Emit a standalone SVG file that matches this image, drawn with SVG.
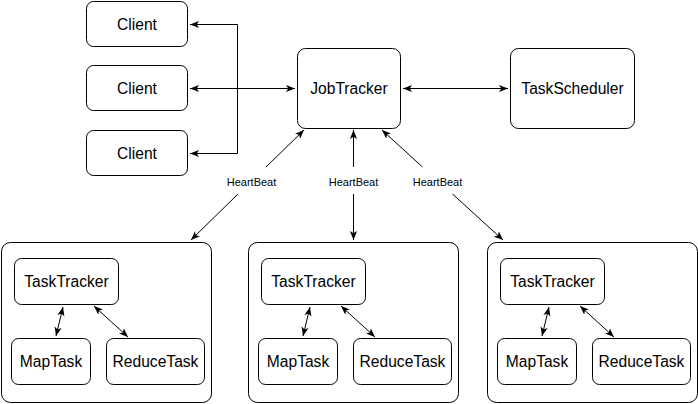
<svg xmlns="http://www.w3.org/2000/svg" width="698" height="404" viewBox="0 0 698 404">
  <style>
    .box { fill: #ffffff; stroke: #000000; stroke-width: 1; }
    .lbl { font-family: "Liberation Sans", Arial, sans-serif; font-size: 15.6px; fill: #000000; text-anchor: middle; dominant-baseline: central; }
    .hb { font-family: "Liberation Sans", Arial, sans-serif; font-size: 11px; fill: #000000; text-anchor: middle; dominant-baseline: central; }
    .edge { fill: none; stroke: #000000; stroke-width: 1; }
  </style>
  <defs>
    <marker id="arrow" viewBox="0 0 10 10" refX="10" refY="5" markerWidth="9" markerHeight="9" markerUnits="userSpaceOnUse" orient="auto-start-reverse">
      <path d="M0,1 L10,5 L0,9 L2.5,5 z" fill="#000000"/>
    </marker>
  </defs>
  <rect width="698" height="404" fill="#ffffff"/>

  <!-- clients -->
  <g id="client1"><rect class="box" x="86.5" y="1.5" width="101" height="45" rx="7"/><text class="lbl" x="137" y="24">Client</text></g>
  <g id="client2"><rect class="box" x="86.5" y="65.5" width="101" height="45" rx="7"/><text class="lbl" x="137" y="88">Client</text></g>
  <g id="client3"><rect class="box" x="86.5" y="130.5" width="101" height="45" rx="7"/><text class="lbl" x="137" y="153">Client</text></g>

  <!-- master side -->
  <g id="jobtracker"><rect class="box" x="297.5" y="48.5" width="103" height="80" rx="8"/><text class="lbl" x="349" y="88.5">JobTracker</text></g>
  <g id="taskscheduler"><rect class="box" x="510.5" y="48.5" width="124" height="80" rx="8"/><text class="lbl" x="572.5" y="88.5">TaskScheduler</text></g>

  <!-- worker 1 -->
  <g id="worker1">
    <rect class="box" x="1.5" y="242.5" width="210" height="160" rx="9"/>
    <g id="tasktracker1"><rect class="box" x="14.5" y="258.5" width="104" height="46" rx="7"/><text class="lbl" x="66.5" y="281.5">TaskTracker</text></g>
    <g id="maptask1"><rect class="box" x="11.5" y="338.5" width="79" height="46" rx="7"/><text class="lbl" x="51" y="361.5">MapTask</text></g>
    <g id="reducetask1"><rect class="box" x="106.5" y="338.5" width="98" height="46" rx="7"/><text class="lbl" x="155.5" y="361.5">ReduceTask</text></g>
  </g>

  <!-- worker 2 -->
  <g id="worker2">
    <rect class="box" x="248.5" y="242.5" width="210" height="160" rx="9"/>
    <g id="tasktracker2"><rect class="box" x="261.5" y="258.5" width="104" height="46" rx="7"/><text class="lbl" x="313.5" y="281.5">TaskTracker</text></g>
    <g id="maptask2"><rect class="box" x="258.5" y="338.5" width="79" height="46" rx="7"/><text class="lbl" x="298" y="361.5">MapTask</text></g>
    <g id="reducetask2"><rect class="box" x="353.5" y="338.5" width="98" height="46" rx="7"/><text class="lbl" x="402.5" y="361.5">ReduceTask</text></g>
  </g>

  <!-- worker 3 -->
  <g id="worker3">
    <rect class="box" x="487.5" y="242.5" width="210" height="160" rx="9"/>
    <g id="tasktracker3"><rect class="box" x="500.5" y="258.5" width="104" height="46" rx="7"/><text class="lbl" x="552.5" y="281.5">TaskTracker</text></g>
    <g id="maptask3"><rect class="box" x="497.5" y="338.5" width="79" height="46" rx="7"/><text class="lbl" x="537" y="361.5">MapTask</text></g>
    <g id="reducetask3"><rect class="box" x="592.5" y="338.5" width="98" height="46" rx="7"/><text class="lbl" x="641.5" y="361.5">ReduceTask</text></g>
  </g>

  <!-- connectors -->
  <g id="connectors">
    <!-- clients to JobTracker -->
    <path class="edge" d="M237.5,24.5 V153.5"/>
    <path class="edge" d="M237.5,24.5 H190" marker-end="url(#arrow)"/>
    <path class="edge" d="M237.5,88.5 H190" marker-end="url(#arrow)"/>
    <path class="edge" d="M237.5,153.5 H190" marker-end="url(#arrow)"/>
    <path class="edge" d="M237.5,88.5 H295" stroke-width="2" marker-end="url(#arrow)"/>
    <!-- JobTracker to TaskScheduler -->
    <path class="edge" d="M403,88.5 H508" marker-start="url(#arrow)" marker-end="url(#arrow)"/>

    <!-- heartbeats -->
    <path class="edge" d="M266,167 L304,130" marker-end="url(#arrow)"/>
    <path class="edge" d="M238,194 L191,240" marker-end="url(#arrow)"/>
    <text class="hb" x="251.5" y="182">HeartBeat</text>

    <path class="edge" d="M353.5,167 V130" marker-end="url(#arrow)"/>
    <path class="edge" d="M353.5,194 V240" marker-end="url(#arrow)"/>
    <text class="hb" x="353.5" y="182">HeartBeat</text>

    <path class="edge" d="M422.5,167 L382,130" marker-end="url(#arrow)"/>
    <path class="edge" d="M452.5,194 L503,240" marker-end="url(#arrow)"/>
    <text class="hb" x="437.5" y="182">HeartBeat</text>

    <!-- inside workers -->
    <path class="edge" d="M63,307 L56,336" marker-start="url(#arrow)" marker-end="url(#arrow)"/>
    <path class="edge" d="M94,306 L128,337" marker-start="url(#arrow)" marker-end="url(#arrow)"/>
    <path class="edge" d="M310,307 L303,336" marker-start="url(#arrow)" marker-end="url(#arrow)"/>
    <path class="edge" d="M341,306 L375,337" marker-start="url(#arrow)" marker-end="url(#arrow)"/>
    <path class="edge" d="M549,307 L542,336" marker-start="url(#arrow)" marker-end="url(#arrow)"/>
    <path class="edge" d="M580,306 L614,337" marker-start="url(#arrow)" marker-end="url(#arrow)"/>
  </g>
</svg>
